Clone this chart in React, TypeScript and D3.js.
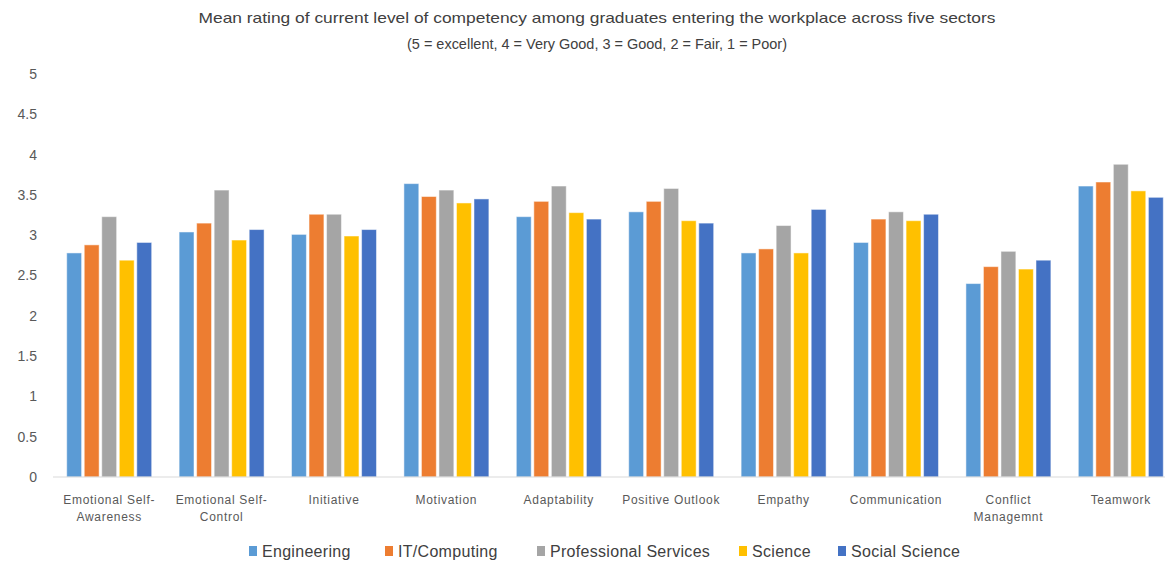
import React from "react";
import * as d3 from "d3";

const categories = [
  "Emotional Self-Awareness",
  "Emotional Self-Control",
  "Initiative",
  "Motivation",
  "Adaptability",
  "Positive Outlook",
  "Empathy",
  "Communication",
  "Conflict Managemnt",
  "Teamwork",
];
const categoryLines = [
  ["Emotional Self-", "Awareness"],
  ["Emotional Self-", "Control"],
  ["Initiative"],
  ["Motivation"],
  ["Adaptability"],
  ["Positive Outlook"],
  ["Empathy"],
  ["Communication"],
  ["Conflict", "Managemnt"],
  ["Teamwork"],
];
const seriesNames = ["Engineering", "IT/Computing", "Professional Services", "Science", "Social Science"];
const engineering = [2.78, 3.04, 3.01, 3.64, 3.23, 3.29, 2.78, 2.91, 2.4, 3.61];
const itComputing = [2.88, 3.15, 3.26, 3.48, 3.42, 3.42, 2.83, 3.2, 2.61, 3.66];
const professionalServices = [3.23, 3.56, 3.26, 3.56, 3.61, 3.58, 3.12, 3.29, 2.8, 3.88];
const science = [2.69, 2.94, 2.99, 3.4, 3.28, 3.18, 2.78, 3.18, 2.58, 3.55];
const socialScience = [2.91, 3.07, 3.07, 3.45, 3.2, 3.15, 3.32, 3.26, 2.69, 3.47];
const yTicks = [0, 0.5, 1, 1.5, 2, 2.5, 3, 3.5, 4, 4.5, 5];
const colors = ["#5B9BD5", "#ED7D31", "#A5A5A5", "#FFC000", "#4472C4"];
const titleLines = [
  "Mean rating of current level of competency among graduates entering the workplace across five sectors",
  "(5 = excellent, 4 =  Very Good, 3 = Good, 2 = Fair, 1 = Poor)",
];

const allSeries = [engineering, itComputing, professionalServices, science, socialScience];

const W = 1165;
const H = 563;
const FONT = "'Liberation Sans', Arial, sans-serif";
const TXT = "#595959";
const DARK = "#404040";

export default function App() {
  const plotLeft = 53;
  const plotRight = 1177;
  const y = d3.scaleLinear().domain([0, 5]).range([477, 74]);
  const x0 = d3
    .scaleBand<string>()
    .domain(categories)
    .range([plotLeft, plotRight])
    .paddingInner(0.244)
    .paddingOuter(0.122);
  const x1 = d3
    .scaleBand<string>()
    .domain(seriesNames)
    .range([0, x0.bandwidth()])
    .paddingInner(0.15);

  const legendX = [249, 385, 537, 739, 838];
  const titleWidths = [797, 380];

  return (
    <svg
      width={W}
      height={H}
      style={{ position: "absolute", left: 0, top: 0, background: "#fff" }}
      fontFamily={FONT}
    >
      <rect x={0} y={0} width={W} height={H} fill="#fff" />
      {titleLines.map((t, i) => (
        <text
          key={i}
          x={597}
          y={23 + i * 26}
          textAnchor="middle"
          fontSize={15}
          fill={DARK}
          textLength={titleWidths[i]}
          lengthAdjust="spacingAndGlyphs"
        >
          {t}
        </text>
      ))}
      {yTicks.map((t) => (
        <text
          key={t}
          x={37}
          y={y(t)}
          dy="0.35em"
          textAnchor="end"
          fontSize={14}
          fill={TXT}
        >
          {t}
        </text>
      ))}
      {categories.map((c, ci) => (
        <g key={c} transform={`translate(${x0(c)},0)`}>
          {seriesNames.map((s, si) => (
            <rect
              key={s}
              x={x1(s)}
              y={y(allSeries[si][ci])}
              width={x1.bandwidth()}
              height={y(0) - y(allSeries[si][ci])}
              fill={colors[si]}
              stroke="#ffffff"
              strokeOpacity={0.5}
              strokeWidth={1}
            />
          ))}
        </g>
      ))}
      <line x1={plotLeft} x2={W} y1={y(0)} y2={y(0)} stroke="#d9d9d9" strokeWidth={1} />
      {categories.map((c, ci) => (
        <text
          key={c}
          x={(x0(c) as number) + x0.bandwidth() / 2}
          y={504}
          textAnchor="middle"
          fontSize={12}
          fill={TXT}
          letterSpacing={0.7}
        >
          {categoryLines[ci].map((l, li) => (
            <tspan key={li} x={(x0(c) as number) + x0.bandwidth() / 2} dy={li === 0 ? 0 : 17}>
              {l}
            </tspan>
          ))}
        </text>
      ))}
      {seriesNames.map((s, si) => (
        <g key={s} transform={`translate(${legendX[si]},551)`}>
          <rect x={0} y={-5} width={8} height={10} fill={colors[si]} />
          <text x={13} y={0} dy="0.35em" fontSize={16} fill={DARK} letterSpacing={0.3}>
            {s}
          </text>
        </g>
      ))}
    </svg>
  );
}
